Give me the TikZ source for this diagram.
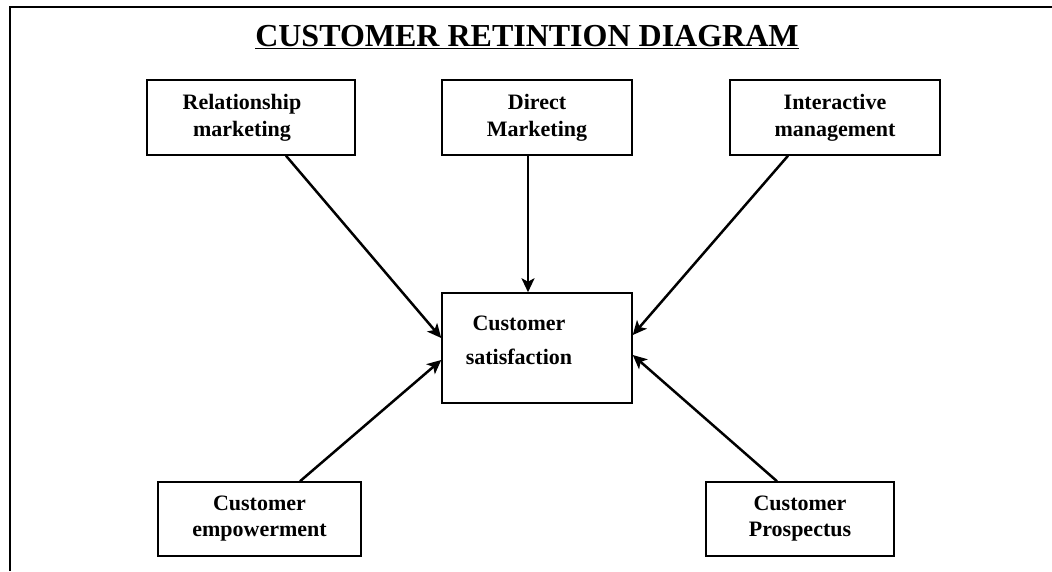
\documentclass[tikz,border=0pt]{standalone}
\usepackage{fontspec}
\setmainfont{Liberation Serif}
\usetikzlibrary{arrows.meta}

\begin{document}
\begin{tikzpicture}[x=1pt,y=-1pt,
		box/.style={draw,line width=1.5pt,inner sep=0pt,align=center,font=\bfseries\fontsize{22}{27}\selectfont},
		arr/.style={-{Stealth[length=14pt,width=13pt,inset=3.5pt]},line width=2.5pt}]
		\useasboundingbox (0,0) rectangle (1052,571);
		\draw[line width=2.5pt] (10,571) -- (10,7) -- (1052,7);
		\node (title) at (527,37) {\bfseries\fontsize{32}{36}\selectfont\underline{CUSTOMER RETINTION DIAGRAM}};

		\node (rel) [box,minimum width=208,minimum height=75] at (251,117.5) {Relationship\hspace*{18pt}\\marketing\hspace*{18pt}};
		\node (dir) [box,minimum width=190,minimum height=75] at (537,117.5) {Direct\\Marketing};
		\node (int) [box,minimum width=210,minimum height=75] at (835,117.5) {Interactive\\management};
		\node (sat) [box,minimum width=190,minimum height=110] at (537,348) {};
		\node (sattxt) [align=center,font=\bfseries\fontsize{22}{34}\selectfont] at (519,340) {Customer\\satisfaction};
		\node (emp) [box,minimum width=203,minimum height=74,font=\bfseries\fontsize{22}{26}\selectfont] at (259.5,519) {Customer\\empowerment};
		\node (pro) [box,minimum width=188,minimum height=74,font=\bfseries\fontsize{22}{26}\selectfont] at (800,519) {Customer\\Prospectus};

		\path[arr] ([xshift=35]rel.south) edge ([yshift=10]sat.west);
		\path[arr] ([xshift=-9]dir.south) edge ([xshift=-9]sat.north);
		\path[arr] ([xshift=-47]int.south) edge ([yshift=13]sat.east);
		\path[arr] ([xshift=40.5]emp.north) edge ([yshift=-12]sat.west);
		\path[arr] ([xshift=-23]pro.north) edge ([yshift=-7]sat.east);
	\end{tikzpicture}
\end{document}
